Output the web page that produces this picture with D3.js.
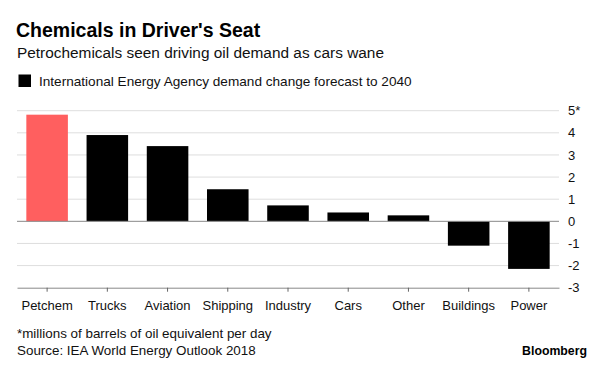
<!DOCTYPE html>
<html>
<head>
<meta charset="utf-8">
<script src="https://cdnjs.cloudflare.com/ajax/libs/d3/7.8.5/d3.min.js"></script>
<style>
  body { margin: 0; background: #fff; }
  text { font-family: "Liberation Sans", Arial, sans-serif; }
</style>
</head>
<body>
<div id="chart"></div>
<script>
(function () {

    var categories = ["Petchem", "Trucks", "Aviation", "Shipping", "Industry", "Cars", "Other", "Buildings", "Power"];
    var values = [4.82, 3.9, 3.4, 1.45, 0.72, 0.4, 0.27, -1.1, -2.15];
    var tickValues = [5, 4, 3, 2, 1, 0, -1, -2, -3];
    var tickLabels = ["5*", "4", "3", "2", "1", "0", "-1", "-2", "-3"];

    var width = 600;
    var height = 365;
    var left = 17, right = 559;
    var top = 110.7, bottom = 287.7;

    var svg = d3.select("#chart").append("svg")
        .attr("width", width)
        .attr("height", height);

    var x = d3.scaleBand()
        .domain(categories)
        .range([left, right])
        .paddingInner(0.31)
        .paddingOuter(0.155);

    var y = d3.scaleLinear()
        .domain([-3, 5])
        .range([bottom, top]);

    // titles
    svg.append("text")
        .attr("x", 16).attr("y", 36.7)
        .attr("font-size", 19.5).attr("font-weight", "bold")
        .attr("fill", "#000")
        .text("Chemicals in Driver's Seat");

    svg.append("text")
        .attr("x", 17).attr("y", 57.7)
        .attr("font-size", 15.4)
        .attr("fill", "#111")
        .text("Petrochemicals seen driving oil demand as cars wane");

    // legend
    svg.append("rect")
        .attr("x", 18.5).attr("y", 74.5)
        .attr("width", 12.5).attr("height", 12.5)
        .attr("fill", "#000");
    svg.append("text")
        .attr("x", 39).attr("y", 86)
        .attr("font-size", 13.6)
        .attr("fill", "#111")
        .text("International Energy Agency demand change forecast to 2040");

    // grid
    svg.selectAll("line.grid")
        .data(tickValues.filter(function (d) { return d !== 0 && d !== -3; }))
        .enter()
        .append("line")
        .attr("class", "grid")
        .attr("x1", left).attr("x2", right)
        .attr("y1", function (d) { return y(d); })
        .attr("y2", function (d) { return y(d); })
        .attr("stroke", "#dedede")
        .attr("stroke-width", 1);

    // right axis labels
    svg.selectAll("text.ytick")
        .data(tickValues)
        .enter()
        .append("text")
        .attr("class", "ytick")
        .attr("x", 568)
        .attr("y", function (d) { return y(d); })
        .attr("dy", "0.35em")
        .attr("font-size", 13)
        .attr("fill", "#111")
        .text(function (d, i) { return tickLabels[i]; });

    // bars
    svg.selectAll("rect.bar")
        .data(values)
        .enter()
        .append("rect")
        .attr("class", "bar")
        .attr("x", function (d, i) { return x(categories[i]); })
        .attr("y", function (d) { return y(Math.max(0, d)); })
        .attr("width", x.bandwidth())
        .attr("height", function (d) { return Math.abs(y(d) - y(0)); })
        .attr("fill", function (d, i) { return i === 0 ? "#ff5f5f" : "#000"; });

    // zero line
    svg.append("line")
        .attr("x1", left).attr("x2", right)
        .attr("y1", y(0)).attr("y2", y(0))
        .attr("stroke", "#888").attr("stroke-width", 1);

    // bottom axis
    var xAxis = d3.axisBottom(x).tickSize(4).tickSizeOuter(0).tickPadding(9);
    var gx = svg.append("g")
        .attr("transform", "translate(0," + y(-3) + ")")
        .call(xAxis);
    gx.select(".domain").attr("stroke", "#888");
    gx.selectAll(".tick line").attr("stroke", "#666");
    gx.selectAll(".tick text")
        .attr("font-size", 13)
        .attr("font-family", "Liberation Sans, Arial, sans-serif")
        .attr("fill", "#111");

    // footer
    svg.append("text")
        .attr("x", 17).attr("y", 338.3)
        .attr("font-size", 13.4).attr("fill", "#111")
        .text("*millions of barrels of oil equivalent per day");
    svg.append("text")
        .attr("x", 17).attr("y", 355)
        .attr("font-size", 13.4).attr("fill", "#111")
        .text("Source: IEA World Energy Outlook 2018");
    svg.append("text")
        .attr("x", 587).attr("y", 355)
        .attr("text-anchor", "end")
        .attr("font-size", 12.3).attr("font-weight", "bold")
        .attr("fill", "#000")
        .text("Bloomberg");
})();
</script>
</body>
</html>
